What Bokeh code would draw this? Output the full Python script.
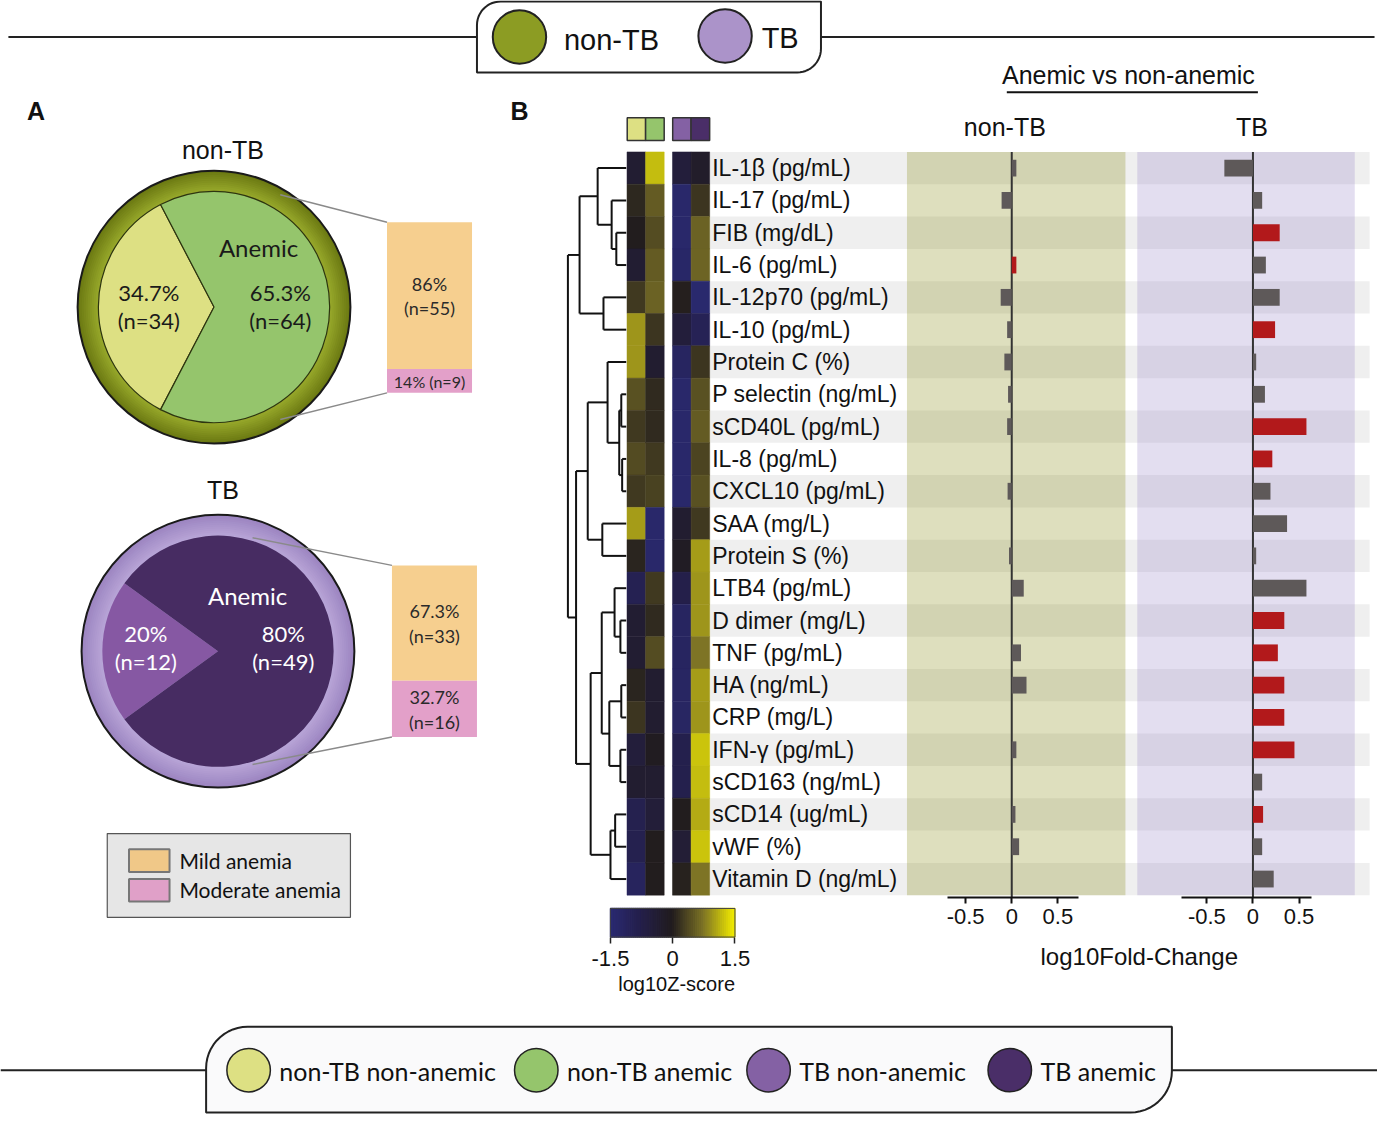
import numpy as np
from bokeh.plotting import figure
from bokeh.models import Range1d, LinearAxis, FixedTicker, LinearColorMapper, CustomJSTickFormatter, ColumnDataSource
from bokeh.core.properties import value
from bokeh.embed import file_html
from bokeh.resources import INLINE

# ---------------- data ----------------
markers = ["IL-1β (pg/mL)", "IL-17 (pg/mL)", "FIB (mg/dL)", "IL-6 (pg/mL)", "IL-12p70 (pg/mL)",
           "IL-10 (pg/mL)", "Protein C (%)", "P selectin (ng/mL)", "sCD40L (pg/mL)", "IL-8 (pg/mL)",
           "CXCL10 (pg/mL)", "SAA (mg/L)", "Protein S (%)", "LTB4 (pg/mL)", "D dimer (mg/L)",
           "TNF (pg/mL)", "HA (ng/mL)", "CRP (mg/L)", "IFN-γ (pg/mL)", "sCD163 (ng/mL)",
           "sCD14 (ug/mL)", "vWF (%)", "Vitamin D (ng/mL)"]

z_nontb_nonanemic = [-0.35, 0.1, 0.0, -0.35, 0.25, 0.95, 0.95, 0.45, 0.25, 0.4, 0.25, 1.0, 0.08,
                     -0.9, -0.35, -0.35, 0.08, 0.22, -0.5, -0.3, -0.85, -0.85, -1.1]
z_nontb_anemic = [1.2, 0.55, 0.42, 0.55, 0.6, 0.22, -0.3, 0.12, 0.12, 0.25, 0.32, -1.35, -1.35,
                  0.25, 0.12, 0.42, -0.3, -0.3, -0.05, -0.3, -0.45, 0.0, 0.0]
z_tb_nonanemic = [-0.5, -1.35, -1.35, -1.3, 0.03, -0.5, -1.15, -1.35, -1.35, -1.35, -1.35, -0.3, -0.1,
                  -0.75, -1.15, -1.15, -1.2, -1.2, -0.8, -0.8, 0.0, -0.4, 0.05]
z_tb_anemic = [-0.2, 0.22, 0.6, 0.62, -1.4, -0.95, 0.22, 0.45, 0.55, 0.35, 0.45, 0.25, 1.0,
               0.95, 0.95, 0.75, 1.0, 0.95, 1.25, 1.2, 1.1, 1.25, 0.75]

fc_nontb = [0.05, -0.11, 0.0, 0.05, -0.12, -0.05, -0.08, -0.04, -0.05, 0.0, -0.045, 0.0, -0.03,
            0.13, 0.0, 0.10, 0.16, 0.0, 0.05, 0.0, 0.04, 0.08, 0.0]
sig_nontb = [0, 0, 0, 1, 0, 0, 0, 0, 0, 0, 0, 0, 0, 0, 0, 0, 0, 0, 0, 0, 0, 0, 0]
fc_tb = [-0.31, 0.10, 0.29, 0.14, 0.29, 0.24, 0.035, 0.13, 0.58, 0.21, 0.19, 0.37, 0.035,
         0.58, 0.34, 0.27, 0.34, 0.34, 0.45, 0.10, 0.11, 0.10, 0.225]
sig_tb = [0, 0, 1, 0, 0, 1, 0, 0, 1, 1, 0, 0, 0, 0, 1, 1, 1, 1, 1, 0, 1, 0, 0]

# dendrogram linkage (node ids: leaves 0-22, merges 23..)
link_left = [2, 1, 0, 4, 25, 7, 9, 28, 6, 11, 31, 14, 13, 16, 18, 36, 35, 20, 40, 39, 33, 27]
link_right = [3, 23, 24, 5, 26, 8, 10, 29, 30, 12, 32, 15, 34, 17, 19, 37, 38, 21, 22, 41, 42, 43]
link_height = [0.17, 0.25, 0.49, 0.39, 0.80, 0.085, 0.07, 0.12, 0.32, 0.41, 0.66, 0.10, 0.20,
               0.085, 0.10, 0.29, 0.42, 0.19, 0.27, 0.61, 0.86, 1.0]

pie_groups = ["non-TB", "TB"]
nonanemic_pct = [34.7, 20]
nonanemic_n = [34, 12]
anemic_pct = [65.3, 80]
anemic_n = [64, 49]
mild_pct = [86, 67.3]
mild_n = [55, 33]
moderate_pct = [14, 32.7]
moderate_n = [9, 16]

fc_ticks = [-0.5, 0, 0.5]
z_ticks = [-1.5, 0, 1.5]
legend_groups = ["non-TB non-anemic", "non-TB anemic", "TB non-anemic", "TB anemic"]

# ---------------- figure ----------------
W, H = 1393, 1130
p = figure(width=1377, height=1114, x_range=Range1d(0, W), y_range=Range1d(H, 0),
           output_backend="svg", toolbar_location=None, min_border=0,
           x_axis_type=None, y_axis_type=None, outline_line_color=None)
p.grid.visible = False

ROW0, ROWH = 170.0, 32.78


def lin_range(px0, k):
    return Range1d(start=(0 - px0) / k, end=(W - px0) / k)


p.extra_y_ranges = {"rows": Range1d(start=(H - ROW0) / ROWH, end=(0 - ROW0) / ROWH)}
p.extra_x_ranges = {"fcn": lin_range(1023, 93.3), "fct": lin_range(1267, 93.3),
                    "dend": lin_range(633, -59), "z": lin_range(680, 42)}

SANS = "Liberation Sans"
HUM = "Lato"


def txt(x, y, s, size, color="#111", font=SANS, align="center", baseline="middle", style="normal", **kw):
    ss = s if isinstance(s, list) else [s]
    n = len(ss)
    xs = x if isinstance(x, list) else [x] * n
    ys = y if isinstance(y, list) else [y] * n
    p.text(x=xs, y=ys, text=ss, text_font=value(font), text_font_size=value(f"{size}px"),
           text_color=color, text_align=align, text_baseline=baseline, text_font_style=style, **kw)


def rounded(x0, y0, x1, y1, rtl, rtr, rbr, rbl, n=14):
    xs, ys = [], []
    for cx, cy, r, a0 in [(x0 + rtl, y0 + rtl, rtl, 180), (x1 - rtr, y0 + rtr, rtr, 270),
                          (x1 - rbr, y1 - rbr, rbr, 0), (x0 + rbl, y1 - rbl, rbl, 90)]:
        for t in np.radians(np.linspace(a0, a0 + 90, n)):
            xs.append(cx + r * np.cos(t))
            ys.append(cy + r * np.sin(t))
    return xs, ys


def hexmix(c1, c2, f):
    a = np.array([int(c1[i:i + 2], 16) for i in (1, 3, 5)], float)
    b = np.array([int(c2[i:i + 2], 16) for i in (1, 3, 5)], float)
    c = a + (b - a) * f
    return "#%02x%02x%02x" % tuple(int(round(v)) for v in c)


# colour ramp
anchors = ["#2a2a72", "#241f4a", "#211c1e", "#7d7325", "#f2ec00"]
palette = []
for i in range(256):
    t = i / 255 * (len(anchors) - 1)
    k = min(int(t), len(anchors) - 2)
    palette.append(hexmix(anchors[k], anchors[k + 1], t - k))
mapper = LinearColorMapper(palette=palette, low=-1.5, high=1.5)

# ---------------- top legend ----------------
p.segment(x0=[8, 830], y0=[37, 37], x1=[482, 1390], y1=[37, 37], line_color="#222", line_width=2)
bx, by = rounded(482, 1, 830, 73, 24, 0, 24, 0)
p.patch(bx, by, fill_color="white", line_color="#222", line_width=2)
p.circle(x=[525, 733], y=[37, 36], radius=27, fill_color=["#8c9c23", "#ab93c9"], line_color="#222", line_width=2)
txt([570, 770], [40, 38], ["non-TB", "TB"], 29, align="left")

# ---------------- bottom legend ----------------
p.segment(x0=[0, 1185], y0=[1085, 1085], x1=[208, 1393], y1=[1085, 1085], line_color="#222", line_width=2)
bx, by = rounded(208, 1041, 1185, 1128, 42, 0, 42, 0)
p.patch(bx, by, fill_color="#fafafb", line_color="#222", line_width=2)
leg_cols = ["#dde083", "#95c56c", "#8461a4", "#4a2e68"]
leg_x = [251, 542, 777, 1021]
p.circle(x=leg_x, y=[1085] * 4, radius=22, fill_color=leg_cols, line_color="#222", line_width=1.5)
txt([x + 31 for x in leg_x], [1086] * 4, legend_groups, 25, font=HUM, align="left")

# ---------------- panel A ----------------
txt([36, 525], [112, 112], ["A", "B"], 25, style="bold")
centers = [(216, 311), (220, 660)]
ring_cols = [("#6b7912", "#9dae2e"), ("#9c85c1", "#bba8d9")]
wedge_cols = [("#dde083", "#95c56c"), ("#8658a3", "#472c62")]
pie_txt_col = ["#1a1a1a", "white"]
title_y = [152, 497]
box_x = [(391, 477), (396, 482)]
box_top = [225, 573]
box_h = [173, 174]
zoom_from = [((283, 197), (283, 425)), ((255, 545), (255, 775))]
lab_off = [((45, -60), (-66, 0), (67, 0)), ((30, -56), (-73, -3), (66, -3))]
R_OUT, R_IN = 138, 117
for g in range(2):
    cx, cy = centers[g]
    txt(cx + 9 - 4 * g, title_y[g], pie_groups[g], 25)
    # ring
    for k in range(12):
        f = k / 11
        p.circle(x=[cx], y=[cy], radius=R_OUT - (R_OUT - R_IN + 1) * f, fill_color=hexmix(*ring_cols[g], f),
                 line_color=None)
    p.circle(x=[cx], y=[cy], radius=R_OUT, fill_color=None, line_color="#1a1a1a", line_width=2)
    half = np.pi * nonanemic_pct[g] / 100
    lc = "#2d3510" if g == 0 else None
    p.wedge(x=[cx, cx], y=[cy, cy], radius=R_IN,
            start_angle=[np.pi - half, np.pi + half], end_angle=[np.pi + half, 3 * np.pi - half],
            fill_color=list(wedge_cols[g]), line_color=lc, line_width=1.2)
    # labels
    (ax_, ay_), (nx, ny), (mx, my) = lab_off[g]
    tc = pie_txt_col[g]
    txt(cx + ax_, cy + ay_, "Anemic", 24, color=tc, font=HUM)
    txt([cx + nx, cx + nx, cx + mx, cx + mx], [cy + ny - 15, cy + ny + 14, cy + my - 15, cy + my + 14],
        [f"{nonanemic_pct[g]:g}%", f"(n={nonanemic_n[g]})", f"{anemic_pct[g]:g}%", f"(n={anemic_n[g]})"],
        22, color=tc, font=HUM)
    # severity box
    x0, x1 = box_x[g]
    t0 = box_top[g]
    hm = box_h[g] * mild_pct[g] / 100
    hd = box_h[g] * moderate_pct[g] / 100
    p.quad(left=[x0, x0], right=[x1, x1], top=[t0, t0 + hm], bottom=[t0 + hm, t0 + hm + hd],
           fill_color=["#f6cf8f", "#e3a0c9"], line_color=None)
    (fx1, fy1), (fx2, fy2) = zoom_from[g]
    p.segment(x0=[fx1, fx2], y0=[fy1, fy2], x1=[x0, x0], y1=[t0, t0 + hm + hd], line_color="#8a8a8a", line_width=1.5)
    xm = (x0 + x1) / 2
    for top, hh, pc, nn in [(t0, hm, mild_pct[g], mild_n[g]), (t0 + hm, hd, moderate_pct[g], moderate_n[g])]:
        c = top + hh / 2
        if hh > 40:
            txt([xm, xm], [c - 12, c + 13], [f"{pc:g}%", f"(n={nn})"], 18, color="#2a2a2a", font=HUM)
        else:
            txt(xm, c + 1, f"{pc:g}% (n={nn})", 16, color="#2a2a2a", font=HUM)

# severity legend
p.quad(left=[108], right=[354], top=[845], bottom=[930], fill_color="#e6e6e6", line_color="#555", line_width=1.2)
p.quad(left=[130, 130], right=[171, 171], top=[861, 891], bottom=[884, 914],
       fill_color=["#f0c888", "#e0a0c8"], line_color="#777", line_width=2)
txt([181, 181], [872, 902], ["Mild anemia", "Moderate anemia"], 21, font=HUM, align="left")

# ---------------- panel B: heatmap ----------------
rows = list(range(len(markers)))
# row stripes
even = [i for i in rows if i % 2 == 0]
p.quad(left=718, right=1385, top=[i - 0.5 for i in even], bottom=[i + 0.5 for i in even],
       fill_color="#efefef", line_color=None, y_range_name="rows")
# panel backgrounds
p.quad(left=[917], right=[1138], top=[-0.5], bottom=[22.5], fill_color="#85890f", fill_alpha=0.27,
       line_color=None, y_range_name="rows")
p.quad(left=[1150], right=[1370], top=[-0.5], bottom=[22.5], fill_color="#9885c8", fill_alpha=0.27,
       line_color=None, y_range_name="rows")

col_x = [643.2, 662.0, 689.2, 708.0]
for cx_, zs in zip(col_x, [z_nontb_nonanemic, z_nontb_anemic, z_tb_nonanemic, z_tb_anemic]):
    src = ColumnDataSource(dict(x=[cx_] * len(rows), y=rows, z=zs))
    p.rect(x="x", y="y", width=18.8, height=1.0,
           fill_color={"field": "z", "transform": mapper}, line_color={"field": "z", "transform": mapper},
           line_width=0.5, y_range_name="rows", source=src)
# header swatches
p.quad(left=[634, 652.6, 680, 698.6], right=[652.6, 671.4, 698.6, 717.4], top=[119] * 4, bottom=[142] * 4,
       fill_color=leg_cols, line_color="#333", line_width=1.5)

# dendrogram
pos = {i: float(i) for i in rows}
hgt = {i: 0.0 for i in rows}
sx0, sy0, sx1, sy1 = [], [], [], []
for k, (a, b, h) in enumerate(zip(link_left, link_right, link_height)):
    node = len(rows) + k
    for c in (a, b):
        sx0.append(hgt[c]); sx1.append(h); sy0.append(pos[c]); sy1.append(pos[c])
    sx0.append(h); sx1.append(h); sy0.append(pos[a]); sy1.append(pos[b])
    pos[node] = (pos[a] + pos[b]) / 2
    hgt[node] = h
p.segment(x0=sx0, y0=sy0, x1=sx1, y1=sy1, line_color="#111", line_width=2,
          x_range_name="dend", y_range_name="rows")

# row labels
txt(720, rows, markers, 23, align="left", y_range_name="rows")

# colour bar
edges = np.linspace(-1.5, 1.5, 61)
mids = (edges[:-1] + edges[1:]) / 2
cb_src = ColumnDataSource(dict(left=edges[:-1], right=edges[1:], m=mids))
p.quad(left="left", right="right", top=921, bottom=950,
       fill_color={"field": "m", "transform": mapper}, line_color={"field": "m", "transform": mapper},
       line_width=1.2, x_range_name="z", source=cb_src)
p.quad(left=[-1.5], right=[1.5], top=[921], bottom=[950], fill_color=None, line_color="#444",
       line_width=1, x_range_name="z")
fmt = CustomJSTickFormatter(code="return tick.toString()")
zax = LinearAxis(x_range_name="z", fixed_location=950, ticker=FixedTicker(ticks=z_ticks), formatter=fmt,
                 axis_line_color=None, major_tick_out=6, major_tick_in=0, minor_tick_out=0, minor_tick_in=0,
                 major_tick_line_width=1.5, major_tick_line_color="#222", major_label_standoff=8,
                 major_label_text_font=SANS, major_label_text_font_size="22px", major_label_text_color="#111")
p.add_layout(zax, "below")
txt(684, 998, "log10Z-score", 20)

# ---------------- panel B: fold-change bars ----------------
txt(1141, 76, "Anemic vs non-anemic", 25)
p.segment(x0=[1018], y0=[93], x1=[1272], y1=[93], line_color="#111", line_width=2)
txt([1016, 1266], [128, 128], ["non-TB", "TB"], 25)

for rn, vals, sig, bnd in [("fcn", fc_nontb, sig_nontb, (-0.7, 0.72)), ("fct", fc_tb, sig_tb, (-0.77, 0.63))]:
    p.segment(x0=[0], y0=[-0.5], x1=[0], y1=[(910 - ROW0) / ROWH], line_color="#333", line_width=2,
              x_range_name=rn, y_range_name="rows")
    p.hbar(y=rows, left=0, right=vals, height=0.52,
           fill_color=["#b2191b" if s else "#5e5959" for s in sig], line_color=None,
           x_range_name=rn, y_range_name="rows")
    ax = LinearAxis(x_range_name=rn, fixed_location=910, bounds=bnd, ticker=FixedTicker(ticks=fc_ticks),
                    formatter=fmt, axis_line_width=2, axis_line_color="#111", major_tick_out=6,
                    major_tick_in=0, minor_tick_out=0, minor_tick_in=0, major_tick_line_width=2,
                    major_tick_line_color="#111", major_label_standoff=5, major_label_text_font=SANS,
                    major_label_text_font_size="22px", major_label_text_color="#111")
    p.add_layout(ax, "below")

txt(1152, 970, "log10Fold-Change", 24)

open("out.html", "w").write(file_html(p, INLINE))
